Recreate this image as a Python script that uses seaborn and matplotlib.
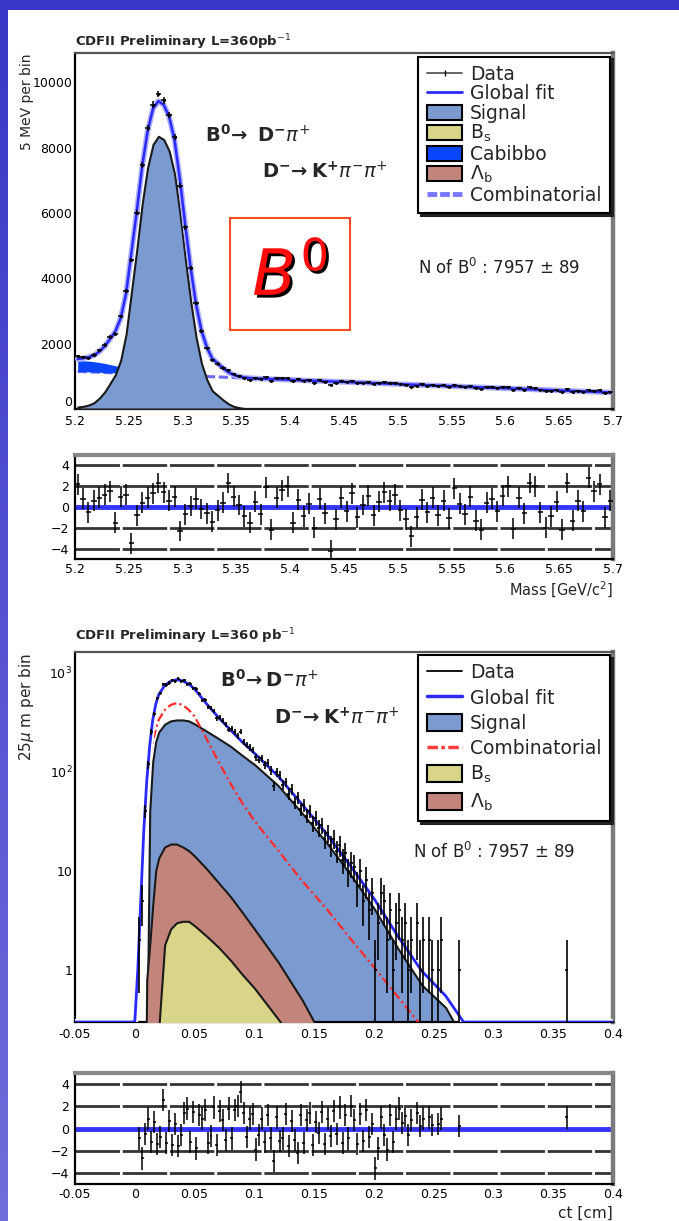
import numpy as np
import matplotlib
matplotlib.use("Agg")
import matplotlib.pyplot as plt
import matplotlib.patheffects as pe
from matplotlib.lines import Line2D
from matplotlib.patches import Patch, Rectangle
from matplotlib.ticker import (MultipleLocator, FixedLocator, FuncFormatter,
                               LogLocator, NullFormatter)
import seaborn as sns

sns.set_theme(style="white")
plt.rcParams.update({
    "font.family": ["DejaVu Sans"],
    "mathtext.fontset": "custom",
    "mathtext.rm": "DejaVu Sans",
    "mathtext.it": "DejaVu Sans:italic",
    "mathtext.bf": "DejaVu Sans:bold",
    "mathtext.sf": "DejaVu Sans",
    "axes.linewidth": 1.5,
    "xtick.color": "black",
    "ytick.color": "black",
})

# ---------------------------------------------------------------- mass fit
mass_lo, mass_hi, mass_step = 5.2, 5.7, 0.005

mass_counts = [1616, 1586, 1567, 1665, 1792, 1971, 2210, 2302, 2836, 3613,
               4562, 6012, 7477, 8599, 9319, 9651, 9446, 9007, 8329, 6834,
               5568, 4321, 3252, 2391, 1868, 1493, 1390, 1269, 1205, 1074,
               1001, 936, 901, 950, 908, 979, 850, 936, 951, 956,
               845, 904, 850, 879, 806, 880, 834, 722, 803, 857,
               813, 856, 784, 811, 830, 770, 800, 818, 790, 800,
               752, 721, 671, 713, 753, 714, 745, 692, 724, 672,
               742, 696, 664, 701, 635, 605, 666, 669, 633, 664,
               680, 571, 639, 595, 662, 645, 579, 536, 556, 583,
               512, 613, 522, 559, 530, 596, 561, 570, 490, 519]

mass_pull = [2.2, 0.8, -0.5, 0.6, 0.9, 1.2, 1.5, -1.5, 1.0, 1.2,
             -3.5, -0.8, 0.4, 0.9, 1.3, 2.3, 1.4, 0.6, 1.0, -2.3,
             -0.7, 0.1, 0.8, -0.2, -0.6, -1.4, -0.3, 0.4, 2.3, 1.0,
             0.2, -0.9, -1.5, 0.5, -0.7, 1.9, -2.2, 0.9, 1.6, 2.0,
             -1.5, 0.7, -0.9, 0.3, -2.0, 0.8, -0.6, -4.2, -1.2, 0.9,
             -0.4, 1.3, -1.0, 0.2, 1.1, -0.8, 0.5, 1.4, 0.6, 1.2,
             -0.3, -1.2, -2.8, -1.0, 0.7, -0.5, 0.9, -0.8, 0.6, -1.1,
             1.8, 0.3, -0.7, 1.0, -1.3, -2.2, 0.4, 0.8, -0.4, 1.1,
             2.0, -2.1, 0.9, -0.6, 2.3, 2.0, -0.5, -2.0, -0.9, 0.5,
             -2.2, 2.3, -1.3, 0.6, -0.4, 2.8, 1.5, 2.2, -1.0, 0.6]

mass_signal = [60, 80, 120, 190, 330, 520, 780, 1050, 1500, 2300,
               3600, 4900, 6300, 7400, 8100, 8350, 8250, 7900, 7200, 6000,
               4600, 3300, 2200, 1400, 900, 560, 420, 280, 160, 80,
               40, 15, 5] + [0] * 67

mass_comb = [1150, 1144, 1137, 1131, 1124, 1118, 1111, 1105, 1098, 1092,
             1085, 1079, 1072, 1066, 1059, 1053, 1046, 1040, 1033, 1027,
             1020, 1014, 1007, 1001, 994, 988, 981, 975, 968, 962,
             955, 949, 942, 936, 929, 923, 916, 910, 903, 897,
             890, 884, 877, 871, 864, 858, 851, 845, 838, 832,
             825, 819, 812, 806, 799, 793, 786, 780, 773, 767,
             760, 754, 747, 741, 734, 728, 721, 715, 708, 702,
             695, 689, 682, 676, 669, 663, 656, 650, 643, 637,
             630, 624, 617, 611, 604, 598, 591, 585, 578, 572,
             565, 559, 552, 546, 539, 533, 526, 520, 513, 507]

mass_cabibbo = [320, 330, 330, 320, 300, 280, 250, 220, 185, 150,
                120, 95, 70, 50, 35, 25, 15, 10, 5] + [0] * 81

# ---------------------------------------------------------------- ct fit
ct_lo, ct_hi, ct_step = -0.05, 0.4, 0.0025

ct_knots = [-0.05, -0.001, 0.0, 0.0025, 0.005, 0.0075, 0.01, 0.0125, 0.015,
            0.0175, 0.02, 0.025, 0.03, 0.035, 0.04, 0.045, 0.05, 0.06, 0.07,
            0.08, 0.09, 0.10, 0.12, 0.14, 0.16, 0.18, 0.20, 0.22, 0.24, 0.26,
            0.275, 0.4]
ct_signal = [0, 0, 0, 0, 0, 0, 0.1, 40, 126, 200, 250, 300, 324, 331, 331,
             324, 302, 255, 215, 180, 145, 118, 72, 38, 19.5, 9.3, 4.2, 1.66,
             0.71, 0.42, 0.2, 0]
ct_comb = [0, 0.05, 0.3, 1.0, 5, 25, 79, 141, 200, 263, 331, 417, 468, 490,
           468, 420, 360, 214, 126, 76, 48, 32, 16, 7.9, 4.2, 2.1, 1.07, 0.54,
           0.27, 0.13, 0.05, 0]
ct_lambda_b = [0, 0, 0, 0, 0, 0, 0.8, 1.8, 4.5, 10, 13.5, 17.4, 18.6, 18.6,
               17.4, 16, 14.1, 10.5, 7.6, 5.5, 3.8, 2.6, 1.2, 0.5, 0.18, 0,
               0, 0, 0, 0, 0, 0]
ct_bs = [0, 0, 0, 0, 0, 0, 0, 0, 0, 0, 0.25, 1.8, 2.6, 3.0, 3.1, 3.1, 2.8,
         2.2, 1.7, 1.26, 0.9, 0.66, 0.32, 0.15, 0.05, 0, 0, 0, 0, 0, 0, 0]

# events per 25 um bin, starting at ct = 0
ct_counts = [0, 2, 5, 40, 118, 250, 380, 545, 615, 760,
             745, 780, 830, 810, 860, 815, 830, 760, 770, 690,
             680, 610, 520, 525, 450, 440, 405, 345, 350, 325,
             300, 265, 270, 250, 230, 253, 200, 185, 176, 165,
             140, 132, 136, 116, 122, 103, 72, 98, 92, 74,
             78, 60, 66, 49, 55, 42, 46, 36, 40, 30,
             34, 27, 29, 21, 24, 18, 21, 16, 18, 13,
             15, 10, 12, 11, 7, 10, 5, 8, 4, 6,
             1, 3, 6, 5, 2, 4, 1, 3, 4, 2,
             3, 1, 2, 0, 3, 1, 2, 0, 2, 1,
             0, 1, 2, 0, 0, 0, 0, 0, 1]
nan = np.nan
ct_pull = [nan, -0.9, -2.7, -0.5, 0.9, -1.2, 0.6, -1.4, -0.8, 2.6,
           -1.3, 0.7, -1.5, 0.4, -1.6, -0.6, 1.4, 1.8, -1.2, 1.5,
           -1.8, 1.2, 0.9, 1.7, -1.3, -0.7, 1.9, -1.5, 1.6, 0.8,
           -1.0, 1.8, -0.9, 1.7, 2.0, 3.3, 1.4, -0.8, 0.9, 1.3,
           -1.9, -0.6, 0.9, -1.2, 1.2, -0.9, -2.9, 1.0, -1.1, -0.9,
           1.3, -1.6, 0.7, -1.0, -2.2, 1.2, -1.3, 0.8, 1.4, -1.5,
           0.6, -0.4, 1.5, -1.4, 0.9, -0.7, 1.6, -0.5, 1.9, -1.3,
           1.2, -0.9, 2.0, 0.8, -1.4, 1.3, -1.1, 1.7, -0.8, 0.4,
           -3.6, -1.8, 1.0, -0.6, -1.9, 1.2, -1.2, 0.9, 1.8, 0.5,
           1.1, -0.6, 0.8, nan, 1.4, 0.2, 0.9, nan, 1.0, 0.3,
           nan, 0.4, 0.9, nan, nan, nan, nan, nan, 0.2]
ct_far_center, ct_far_count, ct_far_pull = 0.36125, 1, 1.0

legend_mass = ["Data", "Global fit", "Signal", r"B$_{\mathrm{s}}$", "Cabibbo",
               r"$\Lambda_{\mathrm{b}}$", "Combinatorial"]
legend_ct = ["Data", "Global fit", "Signal", "Combinatorial",
             r"B$_{\mathrm{s}}$", r"$\Lambda_{\mathrm{b}}$"]
ct_ytick_vals = [1, 10, 100, 1000]
ct_ytick_text = ["1", "10", r"$10^{2}$", r"$10^{3}$"]
pull_ticks = [-4, -2, 0, 2, 4]
pull_ref_levels = [4, 2, -2, -4]

# colours
c_signal = "#7b9bd0"
c_bs = "#d8d488"
c_cab = "#0a46ff"
c_lb = "#c3857b"
c_fit = "#2a2aff"
c_comb_mass = "#6a6aff"
c_comb_ct = "#ff2a2a"

# ---------------------------------------------------------------- derived
mass_counts = np.array(mass_counts, float)
mass_signal = np.array(mass_signal, float)
mass_comb = np.array(mass_comb, float)
mass_cabibbo = np.array(mass_cabibbo, float)
mass_total = mass_signal + mass_comb + mass_cabibbo
mass_centers = mass_lo + mass_step * (np.arange(mass_counts.size) + 0.5)

ct_knots = np.array(ct_knots)
ct_signal = np.array(ct_signal, float)
ct_comb = np.array(ct_comb, float)
ct_lambda_b = np.array(ct_lambda_b, float)
ct_bs = np.array(ct_bs, float)
ct_total = ct_signal + ct_comb + ct_lambda_b + ct_bs
ct_counts = np.array(ct_counts, float)
ct_pull = np.array(ct_pull, float)
ct_centers = ct_step * (np.arange(ct_counts.size) + 0.5)
has = ct_counts > 0
ct_x = np.append(ct_centers[has], ct_far_center)
ct_n = np.append(ct_counts[has], ct_far_count)
ct_px = np.append(ct_centers[~np.isnan(ct_pull)], ct_far_center)
ct_py = np.append(ct_pull[~np.isnan(ct_pull)], ct_far_pull)

# ---------------------------------------------------------------- figure
W, H = 679, 1221
fig = plt.figure(figsize=(W / 100, H / 100), dpi=100)

# slide border
bg = fig.add_axes([0, 0, 1, 1], zorder=-10)
page = np.ones((H, W, 3))
top_rgb = np.array([58, 55, 200]) / 255
bot_rgb = np.array([112, 110, 220]) / 255
t = np.linspace(0, 1, H)[:, None]
page[:, :8, :] = (top_rgb[None, :] * (1 - t) + bot_rgb[None, :] * t)[:, None, :]
page[:10, :, :] = top_rgb
bg.imshow(page, aspect="auto", extent=[0, 1, 0, 1], interpolation="nearest")
bg.axis("off")


def px_axes(x0, y0, x1, y1):
    return fig.add_axes([x0 / W, 1 - y1 / H, (x1 - x0) / W, (y1 - y0) / H])


ax1 = px_axes(75, 53, 613, 409)
ax2 = px_axes(75, 455, 613, 559)
ax3 = px_axes(75, 652, 613, 1022)
ax4 = px_axes(75, 1073, 613, 1184)


def root_frame(ax):
    ax.set_facecolor("white")
    for s in ("left", "bottom"):
        ax.spines[s].set_color("black")
        ax.spines[s].set_linewidth(1.6)
    ax.spines["top"].set_color("#555555")
    ax.spines["top"].set_linewidth(1.6)
    ax.spines["right"].set_color("#7a7a7a")
    ax.spines["right"].set_linewidth(3.2)
    ax.tick_params(which="both", direction="in", top=False, right=False,
                   labelsize=9, width=1.1, colors="black")


fmt_num = FuncFormatter(lambda v, p: "0" if abs(v) < 1e-9 else f"{round(v, 4):g}")

# ---------------- mass spectrum
root_frame(ax1)
ax1.plot(mass_centers, mass_comb, color=c_comb_mass, lw=2.2,
         ls=(0, (3, 1.2)), zorder=2)
ax1.fill_between(mass_centers, mass_comb, mass_comb + mass_cabibbo,
                 where=mass_cabibbo > 0, color=c_cab, lw=0, zorder=3)
ax1.fill_between(mass_centers, 0, mass_signal, facecolor=c_signal,
                 edgecolor="#1a1a1a", lw=1.5, zorder=4)
sns.lineplot(x=mass_centers, y=mass_total, ax=ax1, color=c_fit, lw=1.8,
             sort=False, estimator=None, zorder=5,
             path_effects=[pe.Stroke(linewidth=4, foreground="#aeb0ff"), pe.Normal()])
ax1.errorbar(mass_centers, mass_counts, yerr=np.sqrt(mass_counts),
             xerr=mass_step / 2, fmt="none", ecolor="black", elinewidth=1.1,
             zorder=6)
sns.scatterplot(x=mass_centers, y=mass_counts, ax=ax1, s=5, color="black",
                linewidth=0, zorder=7)
ax1.set_xlim(mass_lo, mass_hi)
ax1.set_ylim(0, 10900)
ax1.xaxis.set_major_locator(MultipleLocator(0.05))
ax1.xaxis.set_minor_locator(MultipleLocator(0.01))
ax1.yaxis.set_major_locator(MultipleLocator(2000))
ax1.yaxis.set_minor_locator(MultipleLocator(500))
ax1.xaxis.set_major_formatter(fmt_num)
ax1.tick_params(axis="y", which="major", length=12, pad=2)
ax1.tick_params(axis="y", which="minor", length=6)
ax1.tick_params(axis="x", which="major", length=8, pad=4)
ax1.tick_params(axis="x", which="minor", length=4)
ax1.set_xlabel("")
ax1.set_ylabel("")

ax1.text(0.242, 0.77, r"$\mathbf{B^0\!\rightarrow\ D^{-}}\pi^{+}$",
         transform=ax1.transAxes, fontsize=14, va="center", ha="left")
ax1.text(0.348, 0.666, r"$\mathbf{D^{-}\!\rightarrow K^{+}}\pi^{-}\pi^{+}$",
         transform=ax1.transAxes, fontsize=14, va="center", ha="left")
ax1.add_patch(Rectangle((0.288, 0.222), 0.223, 0.315, transform=ax1.transAxes,
                        fill=False, edgecolor="#ff4a22", lw=1.5, zorder=8))
ax1.text(0.40, 0.37, r"$\mathit{B}^{\mathit{0}}$", transform=ax1.transAxes,
         fontsize=46, color="#ff0d0d", ha="center", va="center", zorder=9,
         path_effects=[pe.withSimplePatchShadow(offset=(2, -2),
                                                shadow_rgbFace="black", alpha=1)])
ax1.text(0.638, 0.396, r"N of B$^{0}$ : 7957 $\pm$ 89", transform=ax1.transAxes,
         fontsize=12, va="center", ha="left", color="#222222")

h_mass = [Line2D([], [], color="0.35", lw=1.3, marker="|", ms=5, mec="black"),
          Line2D([], [], color=c_fit, lw=2),
          Patch(fc=c_signal, ec="black", lw=1.5),
          Patch(fc=c_bs, ec="black", lw=1.5),
          Patch(fc=c_cab, ec="black", lw=1.5),
          Patch(fc=c_lb, ec="black", lw=1.5),
          Line2D([], [], color="#7878ff", lw=3.5, ls=(0, (2, 0.6)))]
leg1 = ax1.legend(h_mass, legend_mass, loc="upper right",
                  bbox_to_anchor=(0.994, 0.99), borderaxespad=0, frameon=True,
                  fancybox=False, edgecolor="black", framealpha=1,
                  shadow={"color": "#222222", "alpha": 1}, fontsize=13.5,
                  handlelength=1.9, handleheight=0.85, handletextpad=0.4,
                  labelspacing=0.02, borderpad=0.45)
leg1.get_frame().set_linewidth(1.5)
leg1.set_zorder(20)

# ---------------- mass residuals
root_frame(ax2)
ax2.spines["top"].set_color("#888888")
ax2.spines["top"].set_linewidth(3)
for lvl in pull_ref_levels:
    ax2.axhline(lvl, color="#333333", lw=2, ls=(0, (16, 1)), zorder=1)
ax2.axhline(0, color="#3434ff", lw=3.5, zorder=2)
ax2.errorbar(mass_centers, mass_pull, yerr=1, xerr=mass_step / 2, fmt="none",
             ecolor="black", elinewidth=1.1, zorder=3)
ax2.set_xlim(mass_lo, mass_hi)
ax2.set_ylim(-5, 5)
ax2.xaxis.set_major_locator(MultipleLocator(0.05))
ax2.xaxis.set_minor_locator(MultipleLocator(0.01))
ax2.xaxis.set_major_formatter(fmt_num)
ax2.yaxis.set_major_locator(FixedLocator(pull_ticks))
ax2.tick_params(axis="x", which="major", length=4, pad=3)
ax2.tick_params(axis="x", which="minor", length=2.5)
ax2.tick_params(axis="y", which="major", length=0, pad=4)

# ---------------- ct spectrum
root_frame(ax3)
ax3.set_yscale("log", nonpositive="clip")
floor = 1e-3
ax3.fill_between(ct_knots, floor, np.clip(ct_signal, floor, None),
                 facecolor=c_signal, edgecolor="#1a1a1a", lw=1.5, zorder=2)
ax3.fill_between(ct_knots, floor, np.clip(ct_lambda_b, floor, None),
                 facecolor=c_lb, edgecolor="#1a1a1a", lw=1.5, zorder=3)
ax3.fill_between(ct_knots, floor, np.clip(ct_bs, floor, None),
                 facecolor=c_bs, edgecolor="#1a1a1a", lw=1.5, zorder=4)
ct_comb_vis = ct_comb > 0.25
sns.lineplot(x=ct_knots[ct_comb_vis], y=ct_comb[ct_comb_vis], ax=ax3,
             color=c_comb_ct, lw=1.6, sort=False, estimator=None,
             dashes=False, zorder=6)
ax3.lines[-1].set_linestyle((0, (4, 1.5, 1, 1.5)))
sns.lineplot(x=ct_knots, y=np.clip(ct_total, 0.3, None), ax=ax3, color=c_fit,
             lw=2, sort=False, estimator=None, zorder=7,
             path_effects=[pe.Stroke(linewidth=4.5, foreground="white"), pe.Normal()])
ax3.errorbar(ct_x, ct_n, yerr=np.sqrt(ct_n), xerr=ct_step / 2, fmt="none",
             ecolor="black", elinewidth=1.2, zorder=8)
ax3.set_xlim(ct_lo, ct_hi)
ax3.set_ylim(0.3, 1600)
ax3.yaxis.set_major_locator(FixedLocator(ct_ytick_vals))
ax3.yaxis.set_major_formatter(FuncFormatter(
    lambda v, p: ct_ytick_text[ct_ytick_vals.index(int(round(v)))]
    if int(round(v)) in ct_ytick_vals else ""))
ax3.yaxis.set_minor_locator(LogLocator(base=10, subs=np.arange(2, 10)))
ax3.yaxis.set_minor_formatter(NullFormatter())
ax3.xaxis.set_major_locator(MultipleLocator(0.05))
ax3.xaxis.set_minor_locator(MultipleLocator(0.01))
ax3.xaxis.set_major_formatter(fmt_num)
ax3.tick_params(axis="y", which="major", length=12, pad=2)
ax3.tick_params(axis="y", which="minor", length=6)
ax3.tick_params(axis="x", which="major", length=8, pad=4)
ax3.tick_params(axis="x", which="minor", length=4)
ax3.set_xlabel("")
ax3.set_ylabel("")

ax3.text(0.27, 0.924, r"$\mathbf{B^0\!\rightarrow D^{-}}\pi^{+}$",
         transform=ax3.transAxes, fontsize=14, va="center", ha="left")
ax3.text(0.37, 0.822, r"$\mathbf{D^{-}\!\rightarrow K^{+}}\pi^{-}\pi^{+}$",
         transform=ax3.transAxes, fontsize=14, va="center", ha="left")
ax3.text(0.628, 0.459, r"N of B$^{0}$ : 7957 $\pm$ 89", transform=ax3.transAxes,
         fontsize=12, va="center", ha="left", color="#222222")

h_ct = [Line2D([], [], color="black", lw=1.3),
        Line2D([], [], color=c_fit, lw=2.5),
        Patch(fc=c_signal, ec="black", lw=1.5),
        Line2D([], [], color="#ff3a3a", lw=2.5, ls=(0, (3, 1, 1, 1))),
        Patch(fc=c_bs, ec="black", lw=1.5),
        Patch(fc=c_lb, ec="black", lw=1.5)]
leg3 = ax3.legend(h_ct, legend_ct, loc="upper right",
                  bbox_to_anchor=(0.994, 0.992), borderaxespad=0, frameon=True,
                  fancybox=False, edgecolor="black", framealpha=1,
                  shadow={"color": "#222222", "alpha": 1}, fontsize=13.5,
                  handlelength=1.9, handleheight=1.0, handletextpad=0.4,
                  labelspacing=0.33, borderpad=0.45)
leg3.get_frame().set_linewidth(1.5)
leg3.set_zorder(20)

# ---------------- ct residuals
root_frame(ax4)
ax4.spines["top"].set_color("#888888")
ax4.spines["top"].set_linewidth(3)
for lvl in pull_ref_levels:
    ax4.axhline(lvl, color="#333333", lw=2, ls=(0, (16, 1)), zorder=1)
ax4.axhline(0, color="#3434ff", lw=3.5, zorder=2)
ax4.errorbar(ct_px, ct_py, yerr=1, xerr=ct_step / 2, fmt="none",
             ecolor="black", elinewidth=1.1, zorder=3)
ax4.set_xlim(ct_lo, ct_hi)
ax4.set_ylim(-5, 5)
ax4.xaxis.set_major_locator(MultipleLocator(0.05))
ax4.xaxis.set_minor_locator(MultipleLocator(0.01))
ax4.xaxis.set_major_formatter(fmt_num)
ax4.yaxis.set_major_locator(FixedLocator(pull_ticks))
ax4.tick_params(axis="x", which="major", length=4, pad=3)
ax4.tick_params(axis="x", which="minor", length=2.5)
ax4.tick_params(axis="y", which="major", length=0, pad=4)

# keep the zero label of the mass axis clear of the first x label
fig.canvas.draw()
for lab in ax1.get_yticklabels():
    if lab.get_text() == "0":
        lab.set_va("bottom")

# ---------------- page texts
fig.text(75 / W, 1 - 42 / H, r"CDFII Preliminary L=360pb$^{-1}$",
         fontsize=9.5, fontweight="bold", ha="left", va="center")
fig.text(75 / W, 1 - 636 / H, r"CDFII Preliminary L=360 pb$^{-1}$",
         fontsize=9.5, fontweight="bold", ha="left", va="center")
fig.text(27 / W, 1 - 53 / H, "5 MeV per bin", rotation=90, fontsize=10,
         ha="center", va="top")
fig.text(27 / W, 1 - 653 / H, r"25$\mu$ m per bin", rotation=90, fontsize=11,
         ha="center", va="top")
fig.text(613 / W, 1 - 590 / H, r"Mass [GeV/c$^{2}$]", fontsize=10.5,
         ha="right", va="center")
fig.text(613 / W, 1 - 1213 / H, "ct [cm]", fontsize=11,
         ha="right", va="center")

fig.savefig("out.png", dpi=100)
